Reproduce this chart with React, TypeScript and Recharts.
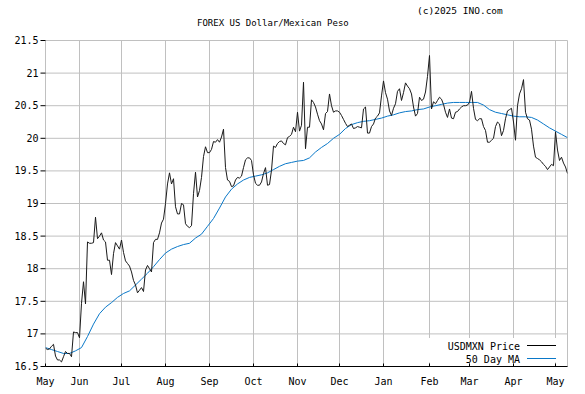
import React from 'react';
import { LineChart, Line, XAxis, YAxis, CartesianGrid } from 'recharts';

const monthTicks = [0, 17, 38, 60, 82, 104, 126, 147, 169, 192, 212, 234, 255];
const monthLabels = ['May', 'Jun', 'Jul', 'Aug', 'Sep', 'Oct', 'Nov', 'Dec', 'Jan', 'Feb', 'Mar', 'Apr', 'May'];
const yTicks = [16.5, 17, 17.5, 18, 18.5, 19, 19.5, 20, 20.5, 21, 21.5];

// USDMXN daily close (trading days)
const price = [
  16.78, 16.76, 16.77, 16.81, 16.84, 16.66, 16.6, 16.6, 16.57, 16.65,
  16.73, 16.7, 16.7, 16.65, 17.03, 17.02, 17.02, 16.94, 17.47, 17.8,
  17.46, 18.41, 18.39, 18.39, 18.4, 18.79, 18.46, 18.5, 18.55, 18.44,
  18.41, 18.13, 18.13, 17.91, 18.23, 18.4, 18.35, 18.3, 18.44, 18.25,
  18.12, 18.08, 18.04, 17.95, 17.82, 17.75, 17.63, 17.67, 17.71, 17.65,
  17.98, 18.05, 18.0, 17.95, 18.4, 18.45, 18.45, 18.55, 18.7, 18.76,
  19.0, 19.3, 19.47, 19.3, 19.38, 18.95, 18.84, 18.84, 19.0, 18.98,
  18.69, 18.65, 18.63, 18.66, 19.15, 19.48, 19.1, 19.2, 19.4, 19.72,
  19.87, 19.78, 19.78, 19.83, 19.95, 19.94, 19.98, 19.94, 20.02, 20.14,
  19.55, 19.36, 19.34, 19.26, 19.27, 19.36, 19.4, 19.39, 19.42, 19.55,
  19.67, 19.7, 19.7, 19.66, 19.44, 19.31, 19.28, 19.28, 19.33, 19.46,
  19.55, 19.28, 19.29, 19.51, 19.88, 19.86, 19.92, 19.95, 19.96, 19.92,
  19.9, 20.01, 20.03, 20.06, 20.17, 20.1, 20.4, 20.11, 20.2, 20.86,
  19.84, 20.17, 20.17, 20.59, 20.55, 20.48, 20.37, 20.27, 20.22, 20.13,
  20.38, 20.41, 20.68, 20.5, 20.4, 20.42, 20.42, 20.4, 20.35, 20.29,
  20.23, 20.18, 20.2, 20.22, 20.15, 20.16, 20.18, 20.17, 20.16, 20.45,
  20.48, 20.08, 20.08, 20.18, 20.22, 20.31, 20.34, 20.39, 20.65, 20.88,
  20.7, 20.6, 20.42, 20.35, 20.46, 20.53, 20.72, 20.76, 20.58, 20.7,
  20.85, 20.8, 20.76, 20.68, 20.48, 20.34, 20.38, 20.63, 20.58, 20.6,
  20.71, 20.95, 21.27, 20.45, 20.56, 20.53, 20.58, 20.63, 20.6, 20.52,
  20.4, 20.32, 20.45, 20.31, 20.3, 20.4, 20.41, 20.45, 20.48, 20.5,
  20.5, 20.51, 20.55, 20.72, 20.46, 20.29, 20.27, 20.3, 20.3, 20.18,
  20.12, 19.94, 19.94, 19.97, 20.0, 20.18, 20.25, 20.22, 20.04, 20.12,
  20.3, 20.42, 20.44, 20.46, 20.25, 19.97, 20.5, 20.68, 20.76, 20.9,
  20.4, 20.3, 20.28, 20.14, 19.88, 19.71, 19.69, 19.67, 19.64, 19.6,
  19.57, 19.52, 19.56, 19.6, 19.58, 20.1, 19.82, 19.66, 19.71, 19.62,
  19.56, 19.46,
];

// 50 day moving average, read every 3rd trading day
const maStep = 3;
const ma50 = [
  16.79, 16.76, 16.73, 16.7, 16.7, 16.74, 16.79, 16.96, 17.15, 17.31,
  17.41, 17.48, 17.56, 17.62, 17.66, 17.75, 17.84, 17.93, 18.03, 18.14,
  18.24, 18.3, 18.34, 18.37, 18.39, 18.47, 18.53, 18.65, 18.77, 18.93,
  19.1, 19.22, 19.3, 19.36, 19.4, 19.42, 19.44, 19.47, 19.52, 19.57,
  19.61, 19.63, 19.65, 19.66, 19.7, 19.79, 19.86, 19.92, 20.0, 20.06,
  20.15, 20.21, 20.24, 20.26, 20.27, 20.29, 20.31, 20.34, 20.36, 20.39,
  20.41, 20.42, 20.44, 20.45, 20.48, 20.5, 20.52, 20.54, 20.55, 20.55,
  20.55, 20.55, 20.55, 20.51, 20.44, 20.4, 20.38, 20.36, 20.34, 20.33,
  20.33, 20.32, 20.28, 20.22, 20.16, 20.11, 20.06, 20.01,
];

const title = 'FOREX US Dollar/Mexican Peso';
const copyright = '(c)2025 INO.com';
const seriesNames = ['USDMXN Price', '50 Day MA'];

const data = price.map((p, i) => ({
  t: i,
  price: p,
  ma: i % maStep === 0 ? ma50[i / maStep] : null,
}));

const FONT = '"DejaVu Sans Mono", monospace';
const GRID = '#c0c0c0';
const BLUE = '#0a78c8';
const LAST = price.length - 1;

const fmtX = (v: number) => monthLabels[monthTicks.indexOf(v)] ?? '';
const fmtY = (v: number) => String(v);

export default function App() {
  return (
    <div style={{ position: 'absolute', left: 0, top: 0, width: 585, height: 394, background: '#fff' }}>
      <LineChart
        width={585}
        height={394}
        data={data}
        margin={{ top: 40.5, right: 17.5, bottom: 0, left: 0 }}
        style={{ fontFamily: FONT }}
      >
        <CartesianGrid stroke={GRID} strokeWidth={1} />
        <XAxis
          dataKey="t"
          type="number"
          domain={[0, LAST]}
          ticks={monthTicks}
          tickFormatter={fmtX}
          height={27.5}
          axisLine={{ stroke: '#000' }}
          tickLine={{ stroke: '#000' }}
          tickSize={-3}
          tickMargin={14}
          tick={{ fill: '#000', fontSize: 10, fontFamily: FONT }}
          interval={0}
          allowDataOverflow
        />
        <XAxis
          xAxisId="top"
          orientation="top"
          dataKey="t"
          type="number"
          domain={[0, LAST]}
          ticks={monthTicks}
          height={0}
          axisLine={false}
          tickLine={{ stroke: '#000' }}
          tickSize={-3}
          tick={false}
          interval={0}
          allowDataOverflow
        />
        <YAxis
          type="number"
          domain={[16.5, 21.5]}
          ticks={yTicks}
          tickFormatter={fmtY}
          width={45.5}
          axisLine={false}
          tickLine={{ stroke: '#000' }}
          tickSize={5}
          tickMargin={2}
          tick={{ fill: '#000', fontSize: 10, fontFamily: FONT }}
          interval={0}
          allowDataOverflow
        />
        <YAxis
          yAxisId="right"
          orientation="right"
          type="number"
          domain={[16.5, 21.5]}
          ticks={yTicks}
          width={0}
          axisLine={false}
          tickLine={{ stroke: '#000' }}
          tickSize={-3}
          tick={false}
          interval={0}
          allowDataOverflow
        />
        <Line
          type="linear"
          dataKey="ma"
          name={seriesNames[1]}
          stroke={BLUE}
          strokeWidth={1}
          dot={false}
          connectNulls
          isAnimationActive={false}
        />
        <Line
          type="linear"
          dataKey="price"
          name={seriesNames[0]}
          stroke="#1a1a1a"
          strokeWidth={1}
          dot={false}
          isAnimationActive={false}
        />
      </LineChart>
      <svg
        width={585}
        height={394}
        style={{ position: 'absolute', left: 0, top: 0, pointerEvents: 'none' }}
      >
        <text x={417} y={14} fontFamily={FONT} fontSize={9.5} fill="#000">{copyright}</text>
        <text x={197} y={26} fontFamily={FONT} fontSize={9} fill="#000">{title}</text>
        <rect x={424} y={338} width={142} height={24.5} fill="#fff" />
        <text x={520} y={349.5} textAnchor="end" fontFamily={FONT} fontSize={10} fill="#000">{seriesNames[0]}</text>
        <line x1={527} x2={556} y1={345.5} y2={345.5} stroke="#000" strokeWidth={1} />
        <text x={520} y={362.5} textAnchor="end" fontFamily={FONT} fontSize={10} fill="#000">{seriesNames[1]}</text>
        <line x1={527} x2={556} y1={358.5} y2={358.5} stroke={BLUE} strokeWidth={1} />
      </svg>
    </div>
  );
}
